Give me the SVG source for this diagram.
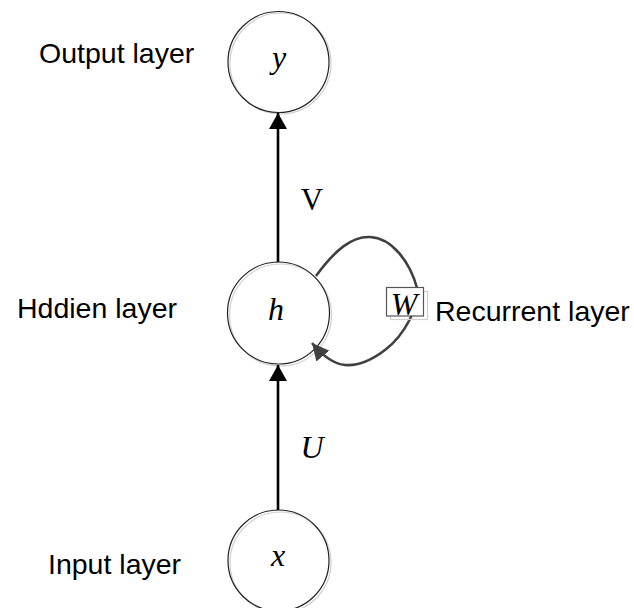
<svg xmlns="http://www.w3.org/2000/svg" width="634" height="608" viewBox="0 0 634 608">
<style>
.lbl{font-family:"Liberation Sans",Arial,sans-serif;font-size:28.5px;fill:#000}
.math{font-family:"Liberation Serif","Times New Roman",serif;fill:#000}
.it{font-style:italic}
.ring{fill:none;stroke:#222;stroke-width:1.2}
.shadow{fill:none;stroke:#d0d0d0;stroke-width:1.2}
.edge{fill:none;stroke:#000;stroke-width:2.6}
.loop{fill:none;stroke:#404040;stroke-width:2.6}
</style>
<defs>
<marker id="ah" markerUnits="userSpaceOnUse" viewBox="0 0 16 18" markerWidth="16" markerHeight="18" refX="16" refY="9" orient="auto">
<path d="M0,0 L16,9 L0,18 z" fill="#000"/>
</marker>
<marker id="ahg" markerUnits="userSpaceOnUse" viewBox="0 0 17 17" markerWidth="17" markerHeight="17" refX="17" refY="8.5" orient="auto">
<path d="M0,0 L17,8.5 L0,17 z" fill="#404040"/>
</marker>
</defs>
<g id="node-y">
<circle class="shadow" cx="280.5" cy="63.5" r="50.5"/>
<circle class="ring" cx="278.5" cy="62" r="50.5"/>
<text class="math it" x="279" y="68" font-size="32" text-anchor="middle">y</text>
</g>
<g id="node-h">
<circle class="shadow" cx="280.5" cy="315" r="51"/>
<circle class="ring" cx="278.5" cy="313" r="51"/>
<text class="math it" x="276" y="320" font-size="32" text-anchor="middle">h</text>
</g>
<g id="node-x">
<circle class="shadow" cx="280.5" cy="562.5" r="50.5"/>
<circle class="ring" cx="278.5" cy="560.5" r="50.5"/>
<text class="math it" x="278" y="566" font-size="32" text-anchor="middle">x</text>
</g>
<g id="connectors">
<line class="edge" x1="278" y1="262" x2="278" y2="113" marker-end="url(#ah)"/>
<line class="edge" x1="278" y1="510" x2="278" y2="365" marker-end="url(#ah)"/>
<path class="loop" d="M316,276 C335,250 352,236 370,237 C392,238 410,262 417,288 C420,305 405,335 385,350 C372,360 358,366 345,365 C334,364 322,355 312,343" marker-end="url(#ahg)"/>
</g>
<g id="node-W">
<rect x="390.5" y="291.5" width="37" height="28" fill="none" stroke="#d0d0d0" stroke-width="1.2"/>
<rect x="386.5" y="287.5" width="37" height="28.5" fill="#fff" stroke="#555" stroke-width="1.2"/>
<text class="math it" x="404" y="315" font-size="32" text-anchor="middle">W</text>
</g>
<g id="labels">
<text class="lbl" x="39" y="63">Output layer</text>
<text class="lbl" x="17" y="318">Hddien layer</text>
<text class="lbl" x="435" y="321">Recurrent layer</text>
<text class="lbl" x="48" y="574">Input layer</text>
<text class="math" x="312" y="210" font-size="31" text-anchor="middle">V</text>
<text class="math it" x="312" y="458" font-size="32" text-anchor="middle">U</text>
</g>
</svg>
